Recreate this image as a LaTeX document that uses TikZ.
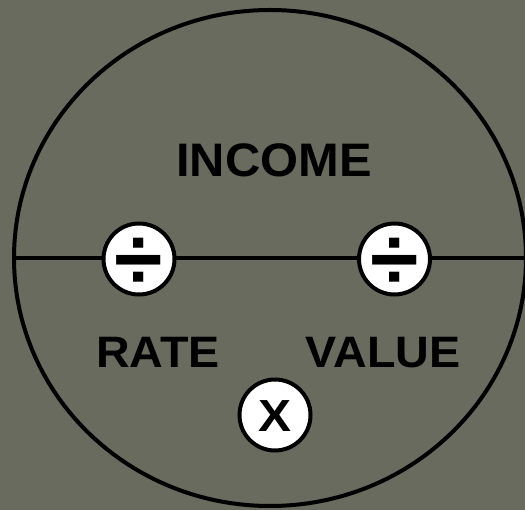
\documentclass[tikz,border=0pt]{standalone}
\usepackage{fontspec}
\setmainfont{Liberation Sans}
\usetikzlibrary{shapes.geometric}
\definecolor{bgcol}{RGB}{104,107,94}
\tikzset{
  ring/.style={circle, draw=black, fill=white, line width=4pt, minimum size=71pt, inner sep=0pt, outer sep=0pt},
  bigword/.style={anchor=base, inner sep=0pt, xscale=1.06, font=\bfseries\fontsize{44}{44}\selectfont},
  divglyph/.style={anchor=base, inner sep=0pt, font=\bfseries\fontsize{88}{88}\selectfont},
  timesglyph/.style={anchor=base, inner sep=0pt, xscale=1.1, font=\bfseries\fontsize{45}{45}\selectfont}
}
\begin{document}
\begin{tikzpicture}[x=1pt, y=-1pt]
\useasboundingbox (0,0) rectangle (525,510);
\fill[bgcol] (0,0) rectangle (525,510);
\clip (0,0) rectangle (525,510);
\node[ellipse, draw=black, line width=4pt, minimum width=512pt, minimum height=496pt, inner sep=0pt, outer sep=0pt] (outer) at (270,258) {};
\draw[line width=3.5pt] (outer.west) -- (outer.east);
\node[ring] (div1) at (139,259) {};
\node[ring] (div2) at (394.5,259) {};
\node[ring] (times) at (275,415) {};
\node[divglyph] (divsign1) at (139,290) {÷};
\node[divglyph] (divsign2) at (394.5,290) {÷};
\node[timesglyph] (timessign) at (275,432) {X};
\node[bigword, xscale=0.98, font=\bfseries\fontsize{47}{47}\selectfont] (income) at (274,177) {INCOME};
\node[bigword] (rate) at (158,368) {RATE};
\node[bigword] (value) at (383,368) {VALUE};
\end{tikzpicture}
\end{document}
